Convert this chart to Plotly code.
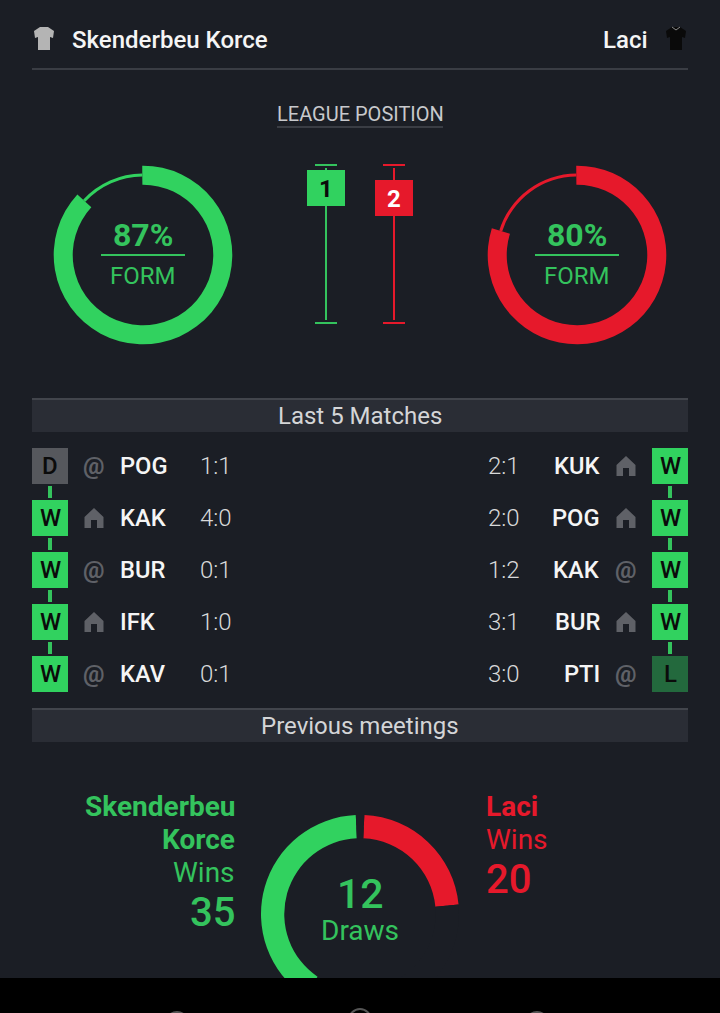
import plotly.graph_objects as go

# ---------- data ----------
home_team = "Skenderbeu Korce"
away_team = "Laci"
league_title = "LEAGUE POSITION"
form_values = [87, 80]
league_positions = [1, 2]

rows_title = "Last 5 Matches"
home_results = ["D", "W", "W", "W", "W"]
home_venues = ["@", "H", "@", "H", "@"]
home_opponents = ["POG", "KAK", "BUR", "IFK", "KAV"]
home_scores = ["1:1", "4:0", "0:1", "1:0", "0:1"]
away_results = ["W", "W", "W", "W", "L"]
away_venues = ["H", "H", "@", "H", "@"]
away_opponents = ["KUK", "POG", "KAK", "BUR", "PTI"]
away_scores = ["2:1", "2:0", "1:2", "3:1", "3:0"]

meetings_title = "Previous meetings"
home_wins = 35
away_wins = 20
draws = 12
meeting_gap_values = [31.6, 1.2]

# ---------- style ----------
W, H = 720, 1013
BG = "#1b1e25"
GREEN = "#31d25f"
GREEN_TXT = "#34c35d"
RED = "#e6192b"
GREY_ICON = "#5f6167"
BAND = "#2a2d35"
RULE = "#42454c"
FONT = "Roboto"
RESULT_COL = {"W": GREEN, "D": "#56585d", "L": "#23693d"}
ROW_Y = [466 + 52 * i for i in range(5)]

fig = go.Figure()
shapes, notes = [], []


def px_dom(x0, x1, y0, y1):
    return dict(x=[x0 / W, x1 / W], y=[1 - y1 / H, 1 - y0 / H])


def txt(x, y, s, size, color, anchor="center", weight=400):
    notes.append(dict(x=x, y=y, xref="x", yref="y", text=s, showarrow=False,
                      xanchor=anchor, yanchor="middle",
                      font=dict(family=FONT, size=size, color=color, weight=weight),
                      borderpad=0, borderwidth=0))


def rect(x0, y0, x1, y1, color, layer="below"):
    shapes.append(dict(type="rect", xref="x", yref="y", x0=x0, y0=y0, x1=x1, y1=y1,
                       fillcolor=color, line_width=0, layer=layer))


def ring(values, colors, cx, cy, r, hole, rotation):
    fig.add_trace(go.Pie(values=values, marker=dict(colors=colors, line=dict(width=0)),
                         domain=px_dom(cx - r, cx + r, cy - r, cy + r), hole=hole,
                         sort=False, direction="clockwise", rotation=rotation,
                         textinfo="none", hoverinfo="skip", showlegend=False))


# invisible anchor trace that activates the pixel axes
fig.add_trace(go.Scatter(x=[0, W], y=[0, H], mode="markers", marker=dict(opacity=0),
                         hoverinfo="skip", showlegend=False))

# ---------- header ----------
txt(72, 39.5, home_team, 24, "#f5f5f5", "left", 500)
txt(648, 39.5, away_team, 24, "#f5f5f5", "right", 500)
rect(32, 68, 688, 70, "#3a3d44")


def shirt(x, y, color):
    p = (f"M {x+6} {y} L {x+14} {y} L {x+20} {y+4} L {x+19} {y+11} L {x+16} {y+10} "
         f"L {x+16} {y+23} L {x+4} {y+23} L {x+4} {y+10} L {x+1} {y+11} L {x} {y+4} Z")
    shapes.append(dict(type="path", xref="x", yref="y", path=p, fillcolor=color,
                       line_width=0, layer="below"))


shirt(34, 27, "#b4b4b4")
shirt(666, 27, "#0a0a0a")
shapes.append(dict(type="path", xref="x", yref="y", path="M 672 27 L 676 30 L 680 27",
                   line=dict(color="#8a8a8a", width=1), layer="below"))

# ---------- league position ----------
txt(360, 114, league_title, 20, "#c8c9cc")
rect(277, 126, 443, 128, "#3a3d44")

LEAGUE_X = [326, 394]
LEAGUE_COL = [GREEN_TXT, RED]
LEAGUE_TXT = ["#0b0b0b", "#ffffff"]
for x, pos, col, tcol in zip(LEAGUE_X, league_positions, LEAGUE_COL, LEAGUE_TXT):
    fig.add_trace(go.Scatter(x=[x, x, None, x - 11, x + 11, None, x - 11, x + 11],
                             y=[168, 320, None, 165, 165, None, 323, 323],
                             mode="lines", line=dict(color=col, width=2),
                             hoverinfo="skip", showlegend=False))
    cy = 178 + 10 * pos
    rect(x - 19, cy - 18, x + 19, cy + 18, GREEN if col == GREEN_TXT else RED, "above")
    txt(x, cy + 0.5, str(pos), 24, tcol, "center", 700)

# ---------- form donuts ----------
FORM_X = [143, 577]
FORM_COL = [GREEN, RED]
TRANSPARENT = "rgba(0,0,0,0)"
for cx, val, col in zip(FORM_X, form_values, FORM_COL):
    ring([val, 100 - val], [TRANSPARENT, col], cx, 255, 81.5, 0.963, -0.5)
    ring([val, 100 - val], [col, TRANSPARENT], cx, 255, 89.3, 0.787, -0.5)
    rect(cx - 42, 254, cx + 42, 256, GREEN_TXT)
    txt(cx, 235, f"{val}%", 32, GREEN_TXT, "center", 700)
    txt(cx, 276, "FORM", 24, GREEN_TXT)

# ---------- bands ----------
for top, title in [(398, rows_title), (708, meetings_title)]:
    rect(32, top, 688, top + 34, BAND)
    rect(32, top, 688, top + 2, RULE)
    txt(360, top + 18, title, 24, "#d4d5d7")


def house(cx, cy):
    p = (f"M {cx} {cy-10} L {cx+9.5} {cy-1} L {cx+9.5} {cy+10} L {cx+3} {cy+10} "
         f"L {cx+3} {cy+2} L {cx-3} {cy+2} L {cx-3} {cy+10} L {cx-9.5} {cy+10} L {cx-9.5} {cy-1} Z")
    shapes.append(dict(type="path", xref="x", yref="y", path=p, fillcolor=GREY_ICON,
                       line_width=0, layer="below"))


def result_column(x, results):
    xs, ys = [], []
    for y in ROW_Y[:-1]:
        xs += [x, x, None]
        ys += [y + 20, y + 32, None]
    fig.add_trace(go.Scatter(x=xs, y=ys, mode="lines", line=dict(color=GREEN_TXT, width=4),
                             hoverinfo="skip", showlegend=False))
    fig.add_trace(go.Scatter(x=[x] * len(results), y=ROW_Y, mode="markers",
                             marker=dict(symbol="square", size=36, line=dict(width=0),
                                         color=[RESULT_COL[r] for r in results]),
                             hoverinfo="skip", showlegend=False))
    for y, r in zip(ROW_Y, results):
        txt(x, y, r, 24, "#0b0b0b", "center", 500)


result_column(50, home_results)
result_column(670, away_results)

for y, v, o, s in zip(ROW_Y, home_venues, home_opponents, home_scores):
    if v == "H":
        house(94, y)
    else:
        txt(94, y, "@", 24, GREY_ICON, "center", 700)
    txt(120, y, o, 23.7, "#f5f5f5", "left", 500)
    txt(200, y, s, 24, "#d8d9da", "left", 300)

for y, v, o, s in zip(ROW_Y, away_venues, away_opponents, away_scores):
    if v == "H":
        house(626, y)
    else:
        txt(626, y, "@", 24, GREY_ICON, "center", 700)
    txt(600, y, o, 23.7, "#f5f5f5", "right", 500)
    txt(488, y, s, 24, "#d8d9da", "left", 300)

# ---------- previous meetings ----------
ring([1], ["#363941"], 360, 914, 89, 0.975, 0)
ring([away_wins, meeting_gap_values[0], home_wins, meeting_gap_values[1]],
     [RED, BG, GREEN, BG], 360, 914, 99, 0.765, 2.5)
txt(235, 806, "Skenderbeu", 28, GREEN_TXT, "right", 700)
txt(235, 839, "Korce", 28, GREEN_TXT, "right", 700)
txt(235, 872, "Wins", 28, GREEN_TXT, "right")
txt(235, 912, str(home_wins), 40, GREEN_TXT, "right", 500)
txt(486, 806, away_team, 28, RED, "left", 700)
txt(486, 839, "Wins", 28, RED, "left")
txt(486, 879, str(away_wins), 40, RED, "left", 500)
txt(360, 894, str(draws), 41, GREEN_TXT, "center", 500)
txt(360, 930, "Draws", 28, GREEN_TXT)

# ---------- bottom system bar ----------
rect(0, 978, W, H, "#000000", "above")
for cx, cy, r in [(177, 1023, 11), (360, 1020, 11), (537, 1023, 11)]:
    shapes.append(dict(type="circle", xref="x", yref="y", x0=cx - r, x1=cx + r,
                       y0=cy - r, y1=cy + r, line=dict(color="#555555", width=2), layer="above"))

fig.update_layout(
    width=W, height=H, margin=dict(l=0, r=0, t=0, b=0), autosize=False,
    paper_bgcolor=BG, plot_bgcolor="rgba(0,0,0,0)", showlegend=False,
    xaxis=dict(range=[0, W], visible=False, fixedrange=True),
    yaxis=dict(range=[H, 0], visible=False, fixedrange=True),
    shapes=shapes, annotations=notes, hovermode=False,
)
fig.write_html("out.html", config=dict(displayModeBar=False),
               post_script="document.body.style.margin='0';document.body.style.overflow='hidden';")
